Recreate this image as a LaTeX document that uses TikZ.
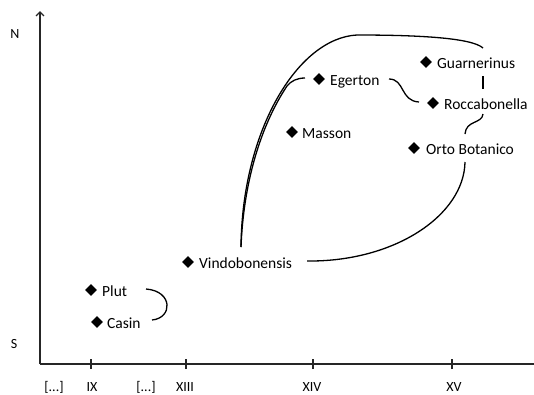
\documentclass[tikz,border=0pt]{standalone}
\usepackage{fontspec}
\setmainfont{Carlito}
\usetikzlibrary{arrows.meta,shapes.geometric}
\begin{document}
\begin{tikzpicture}[x=1pt,y=-1pt,
  mss/.style={diamond,fill=black,inner sep=0pt,minimum size=12pt},
  lbl/.style={anchor=base west,inner sep=0pt,font=\fontsize{15.5}{18}\selectfont},
  axl/.style={anchor=base,inner sep=0pt,font=\fontsize{14}{16}\selectfont},
  axis/.style={line width=1.4pt,draw=black!85},
  link/.style={line width=1.3pt,draw=black}]
\useasboundingbox (0,0) rectangle (534,394);
% axes
\coordinate (o) at (40,364);
\coordinate (ytop) at (40,11);
\coordinate (xend) at (534,364);
\draw[axis,-{Straight Barb[length=4pt,width=8pt]}] (o) -- (ytop);
\draw[axis] (o) -- (xend);
\foreach \x/\n in {91/t9,186/t13,313/t14,452/t15}{
  \coordinate (\n) at (\x,364);
  \draw[axis,line width=1.2pt] ([yshift=-5pt]\n) -- ([yshift=5pt]\n);
}
\node[axl] (n) at (15,38.5) {N};
\node[axl] (s) at (14,348) {S};
\node[axl] (d1) at (54,391.5) {[...]};
\node[axl] (l9) at (92,391.5) {IX};
\node[axl] (d2) at (146,391.5) {[...]};
\node[axl] (l13) at (185,391.5) {XIII};
\node[axl] (l14) at (312,391.5) {XIV};
\node[axl] (l15) at (454,391.5) {XV};
% items
\node[mss] (plutm) at (91,290) {};
\node[lbl] (plut) at (102,296.5) {Plut};
\node[mss] (casinm) at (97,322) {};
\node[lbl] (casin) at (107,328) {Casin};
\node[mss] (vindom) at (188,262) {};
\node[lbl] (vindo) at (199,268) {Vindobonensis};
\node[mss] (massonm) at (292,132) {};
\node[lbl] (masson) at (302,138) {Masson};
\node[mss] (egertonm) at (319,79) {};
\node[lbl] (egerton) at (330,85) {Egerton};
\node[mss] (guarnm) at (426,62) {};
\node[lbl] (guarn) at (437,68) {Guarnerinus};
\node[mss] (roccam) at (433,103) {};
\node[lbl] (rocca) at (444,109) {Roccabonella};
\node[mss] (ortom) at (414,148) {};
\node[lbl] (orto) at (426,154) {Orto Botanico};
% connector end points
\coordinate (pc1) at (146,289);
\coordinate (pc2) at (152,320);
\coordinate (vb) at (241,247);
\coordinate (vr) at (307,261);
\coordinate (eg) at (305,78);
\coordinate (topm) at (357,35);
\coordinate (gr) at (483,48);
\coordinate (gb) at (483,76);
\coordinate (rt) at (483,89);
\coordinate (rb) at (483,114);
\coordinate (ot) at (465,134);
\coordinate (ob) at (465,162);
\coordinate (er) at (389,79);
\coordinate (rl) at (419,102);
% connectors
\draw[link] (pc1) .. controls (173,291) and (173,318) .. (pc2);
\draw[link] (vr) .. controls (395,262) and (464,215) .. (ob);
\draw[link] (rb) .. controls (482,124) and (466,120) .. (ot);
\draw[link] (gb) -- (rt);
\draw[link] (vb) .. controls (242,130) and (298,38) .. (topm) .. controls (420,35) and (472,38) .. (gr);
\draw[link] (vb) .. controls (243.5,182) and (261,125) .. (287,86) .. controls (291,81) and (297,78) .. (eg);
\draw[link] (er) .. controls (405,79) and (400,101) .. (rl);
\end{tikzpicture}
\end{document}
